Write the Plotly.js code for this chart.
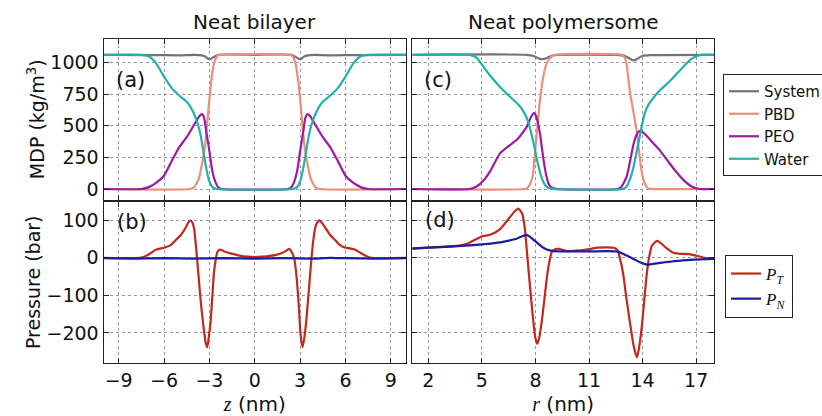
<!DOCTYPE html>
<html>
<head>
<meta charset="utf-8">
<script src="https://cdn.plot.ly/plotly-3.0.1.min.js"></script>
<style>html,body{margin:0;padding:0;background:#fff;}#chart{width:822px;height:416px;}</style>
</head>
<body>
<div id="chart"></div>
<script>
// ---------- Neat bilayer: mass density profiles (kg/m^3) vs z (nm) ----------
const bilSystemZ = [-10, -7, -5, -4, -3.5, -3.3, -3.0, -2.7, -2.4, 0, 2.4, 2.7, 3.0, 3.3, 3.5, 4, 5, 7, 10];
const bilSystemV = [1062, 1060, 1058, 1062, 1058, 1050, 1025, 1045, 1062, 1062, 1062, 1045, 1025, 1050, 1058, 1062, 1058, 1060, 1062];

const bilPBDZ = [-10, -4.3, -4.0, -3.7, -3.5, -3.3, -3.1, -2.9, -2.7, -2.5, -2.3, 2.3, 2.5, 2.7, 2.9, 3.1, 3.3, 3.5, 3.7, 4.0, 4.3, 10];
const bilPBDV = [0, 0, 15, 80, 190, 330, 580, 830, 990, 1050, 1062, 1062, 1050, 990, 830, 580, 330, 190, 80, 15, 0, 0];

const bilPEOZ = [-10, -7.5, -7, -6.5, -6, -5.5, -5, -4.5, -4, -3.7, -3.5, -3.35, -3.2, -3.0, -2.8, -2.6, -2.4, -2.2, 2.2, 2.4, 2.6, 2.8, 3.0, 3.2, 3.35, 3.5, 3.7, 4, 4.5, 5, 5.5, 6, 6.5, 7, 7.5, 10];
const bilPEOV = [0, 0, 15, 50, 105, 220, 330, 410, 510, 570, 592, 565, 450, 300, 140, 55, 12, 0, 0, 12, 55, 140, 300, 450, 565, 592, 570, 510, 410, 330, 220, 105, 50, 15, 0, 0];

const bilWaterZ = [-10, -7.5, -7, -6.5, -6, -5.5, -5, -4.5, -4.2, -3.9, -3.6, -3.4, -3.2, -3.0, -2.8, -2.5, 2.5, 2.8, 3.0, 3.2, 3.4, 3.6, 3.9, 4.2, 4.5, 5, 5.5, 6, 6.5, 7, 7.5, 10];
const bilWaterV = [1062, 1062, 1050, 990, 890, 800, 740, 690, 640, 560, 440, 300, 160, 60, 15, 0, 0, 15, 60, 160, 300, 440, 560, 640, 690, 740, 800, 890, 990, 1050, 1062, 1062];

// ---------- Neat polymersome: mass density profiles vs r (nm) ----------
const polSystemR = [1.1, 7.5, 7.9, 8.2, 8.4, 8.6, 8.9, 9.3, 12.5, 13.0, 13.3, 13.5, 13.7, 14.0, 14.5, 18];
const polSystemV = [1062, 1062, 1052, 1032, 1027, 1035, 1055, 1062, 1062, 1055, 1030, 1018, 1030, 1055, 1060, 1062];

const polPBDR = [1.1, 7.4, 7.55, 7.7, 7.85, 8.0, 8.25, 8.45, 8.65, 8.9, 9.1, 12.8, 13.0, 13.1, 13.3, 13.5, 13.7, 13.9, 14.1, 14.3, 14.5, 18];
const polPBDV = [0, 0, 10, 40, 110, 330, 700, 900, 1000, 1050, 1062, 1062, 1040, 990, 760, 600, 430, 180, 50, 5, 0, 0];

const polPEOR = [1.1, 4.3, 4.7, 5.1, 5.5, 6.0, 6.5, 7.0, 7.5, 7.75, 7.92, 8.05, 8.25, 8.45, 8.6, 8.72, 8.9, 9.2, 12.6, 12.8, 13.1, 13.3, 13.5, 13.7, 13.86, 14.0, 14.3, 14.6, 15.0, 15.4, 15.8, 16.3, 16.8, 17.2, 18];
const polPEOV = [0, 0, 20, 70, 150, 280, 340, 395, 490, 570, 600, 570, 440, 230, 110, 45, 10, 0, 0, 15, 95, 220, 360, 440, 460, 450, 410, 362, 300, 225, 150, 70, 15, 0, 0];

const polWaterR = [1.1, 4.3, 4.7, 5.1, 5.5, 6.0, 6.5, 7.0, 7.3, 7.6, 7.9, 8.1, 8.3, 8.5, 8.7, 9.0, 12.9, 13.1, 13.3, 13.5, 13.7, 13.9, 14.1, 14.3, 14.6, 15.0, 15.5, 16.0, 16.4, 16.7, 17.0, 17.3, 18];
const polWaterV = [1062, 1062, 1040, 965, 890, 810, 740, 675, 620, 530, 360, 220, 110, 40, 10, 0, 0, 20, 80, 180, 320, 460, 590, 660, 720, 785, 850, 925, 985, 1025, 1050, 1062, 1062];

// ---------- Neat bilayer: pressure (bar) vs z ----------
const bilPTZ = [-10, -7.6, -7.2, -6.9, -6.5, -6.0, -5.6, -5.2, -4.9, -4.6, -4.4, -4.25, -4.1, -4.0, -3.85, -3.7, -3.55, -3.37, -3.25, -3.14, -3.05, -2.92, -2.8, -2.7, -2.58, -2.48, -2.3, -2.0, -1.6, -1.0, -0.5, 0, 0.5, 1.0, 1.4, 1.75, 2.05, 2.27, 2.45, 2.6, 2.75, 2.9, 3.02, 3.15, 3.27, 3.4, 3.55, 3.7, 3.85, 4.03, 4.25, 4.45, 4.7, 5.0, 5.3, 5.6, 5.9, 6.2, 6.6, 7.0, 7.4, 7.7, 10];
const bilPTV = [0, 0, 5, 12, 22, 27, 33, 48, 60, 78, 94, 100, 92, 75, 15, -56, -125, -190, -225, -238, -215, -170, -100, -40, -5, 15, 22, 17, 12, 6, 3, 2, 3, 5, 8, 12, 18, 24, 15, 0, -45, -120, -200, -238, -215, -170, -100, -25, 40, 85, 100, 93, 78, 60, 48, 35, 28, 26, 22, 13, 4, 0, 0];
const bilPNZ = [-10, -8, -6, -4, -2, 0, 2, 4, 5, 6, 8, 10];
const bilPNV = [-1, -2, -1, -2, -1, -2, -1, -2, 0, -1, -2, -1];

// ---------- Neat polymersome: pressure (bar) vs r ----------
const polPTR = [1.1, 2, 3, 3.8, 4.2, 4.6, 5.0, 5.5, 6.0, 6.4, 6.8, 7.04, 7.25, 7.4, 7.55, 7.7, 7.88, 8.0, 8.1, 8.2, 8.35, 8.5, 8.63, 8.78, 8.91, 9.1, 9.3, 9.75, 10.5, 11.06, 11.5, 12.0, 12.4, 12.6, 12.75, 12.92, 13.1, 13.3, 13.5, 13.68, 13.8, 13.95, 14.1, 14.24, 14.38, 14.52, 14.8, 15.0, 15.36, 15.7, 16.0, 16.6, 17.0, 17.4, 18];
const polPTV = [24, 27, 30, 33, 38, 48, 57, 62, 76, 98, 122, 131, 118, 80, 0, -80, -170, -215, -229, -215, -170, -110, -56, -10, 15, 23, 24, 18, 20, 24, 27, 28, 27, 20, -5, -45, -110, -175, -235, -265, -240, -185, -110, -40, 5, 32, 45, 40, 25, 14, 11, 10, 6, 1, -2];
const polPNR = [1.1, 2, 3.25, 4.5, 5.5, 6.0, 6.5, 6.95, 7.3, 7.51, 7.8, 8.07, 8.35, 8.63, 9.0, 10, 11, 12, 12.55, 12.9, 13.11, 13.5, 13.86, 14.24, 14.6, 15.36, 16.0, 16.85, 18];
const polPNV = [25, 27, 30, 34, 38, 41, 46, 51, 58, 61, 52, 41, 30, 22, 18, 17, 17, 18, 17, 11, 6, -3, -12, -18, -16, -11, -8, -5, -3];

// ---------- ticks / labels ----------
const zTicks = [-9, -6, -3, 0, 3, 6, 9];
const rTicks = [2, 5, 8, 11, 14, 17];
const mdpTicks = [0, 250, 500, 750, 1000];
const pTicks = [-200, -100, 0, 100];
const panelTitles = ['Neat bilayer', 'Neat polymersome'];
const panelLabels = ['(a)', '(b)', '(c)', '(d)'];

const C = {system: '#737373', pbd: '#e8907a', peo: '#9c1aa4', water: '#22b0ae', pt: '#c2281c', pn: '#1c1ca0'};
const LW = 2.2;
const SANS = 'DejaVu Sans, sans-serif';
const SERIF = 'Liberation Serif, serif';

function tr(x, y, name, color, xa, ya, show, legend) {
  return {x: x, y: y, name: name, type: 'scatter', mode: 'lines', xaxis: xa, yaxis: ya,
    line: {color: color, width: LW, shape: 'spline', smoothing: 0.5},
    showlegend: show, legend: legend || 'legend', legendgroup: name};
}

const data = [
  tr(bilSystemZ, bilSystemV, 'System', C.system, 'x', 'y', true),
  tr(bilPBDZ, bilPBDV, 'PBD', C.pbd, 'x', 'y', true),
  tr(bilPEOZ, bilPEOV, 'PEO', C.peo, 'x', 'y', true),
  tr(bilWaterZ, bilWaterV, 'Water', C.water, 'x', 'y', true),
  tr(polSystemR, polSystemV, 'System', C.system, 'x2', 'y2', false),
  tr(polPBDR, polPBDV, 'PBD', C.pbd, 'x2', 'y2', false),
  tr(polPEOR, polPEOV, 'PEO', C.peo, 'x2', 'y2', false),
  tr(polWaterR, polWaterV, 'Water', C.water, 'x2', 'y2', false),
  tr(bilPTZ, bilPTV, '<i>P</i><sub><i>T</i></sub>', C.pt, 'x3', 'y3', true, 'legend2'),
  tr(bilPNZ, bilPNV, '<i>P</i><sub><i>N</i></sub>', C.pn, 'x3', 'y3', true, 'legend2'),
  tr(polPTR, polPTV, '<i>P</i><sub><i>T</i></sub>', C.pt, 'x4', 'y4', false, 'legend2'),
  tr(polPNR, polPNV, '<i>P</i><sub><i>N</i></sub>', C.pn, 'x4', 'y4', false, 'legend2')
];

const W = 822, H = 416;
const xL = [103.5 / W, 406 / W], xR = [412.3 / W, 714 / W];
const yT = [1 - 200 / H, 1 - 38.5 / H], yB = [1 - 363 / H, 1 - 201.5 / H];

function ax(extra) {
  return Object.assign({
    showline: true, linecolor: '#222', linewidth: 1, mirror: 'ticks',
    ticks: 'inside', ticklen: 5, tickcolor: '#222', tickwidth: 1,
    showgrid: true, gridcolor: '#999', griddash: 'dot', gridwidth: 1,
    zeroline: false, tickfont: {family: SANS, size: 19, color: '#111'},
    tickmode: 'array', automargin: false
  }, extra);
}

const xTitleFont = {family: SANS, size: 20, color: '#111'};
const yTitleFont = {family: SANS, size: 19, color: '#111'};
const layout = {
  width: W, height: H, margin: {l: 0, r: 0, t: 0, b: 0, autoexpand: false},
  paper_bgcolor: '#fff', plot_bgcolor: '#fff',
  font: {family: SANS, color: '#111'},
  xaxis: ax({domain: xL, range: [-10, 10], tickvals: zTicks, showticklabels: false, anchor: 'y'}),
  xaxis2: ax({domain: xR, range: [1.1, 18], tickvals: rTicks, showticklabels: false, anchor: 'y2'}),
  xaxis3: ax({domain: xL, range: [-10, 10], tickvals: zTicks, anchor: 'y3',
    title: {text: '<span style="font-family:Liberation Serif"><i>z</i></span> (nm)', font: xTitleFont, standoff: 10}}),
  xaxis4: ax({domain: xR, range: [1.1, 18], tickvals: rTicks, anchor: 'y4',
    title: {text: '<span style="font-family:Liberation Serif"><i>r</i></span> (nm)', font: xTitleFont, standoff: 10}}),
  yaxis: ax({domain: yT, range: [-87, 1191], tickvals: mdpTicks, anchor: 'x',
    title: {text: 'MDP (kg/m<sup>3</sup>)', font: yTitleFont, standoff: 0}}),
  yaxis2: ax({domain: yT, range: [-87, 1191], tickvals: mdpTicks, showticklabels: false, anchor: 'x2'}),
  yaxis3: ax({domain: yB, range: [-280, 150], tickvals: pTicks, anchor: 'x3',
    title: {text: 'Pressure (bar)', font: yTitleFont, standoff: 0}}),
  yaxis4: ax({domain: yB, range: [-280, 150], tickvals: pTicks, showticklabels: false, anchor: 'x4'}),
  legend: {x: 723 / W, y: 1 - 74 / H, xanchor: 'left', yanchor: 'top', bgcolor: '#fff',
    bordercolor: '#222', borderwidth: 1, font: {family: SANS, size: 15, color: '#111'},
    itemwidth: 30, tracegroupgap: 0},
  legend2: {x: 725 / W, y: 1 - 255 / H, xanchor: 'left', yanchor: 'top', bgcolor: '#fff',
    bordercolor: '#222', borderwidth: 1, font: {family: SERIF, size: 17, color: '#111'},
    itemwidth: 30, tracegroupgap: 0},
  annotations: [
    {text: panelTitles[0], xref: 'paper', yref: 'paper', x: 254.75 / W, y: 1 - 22 / H, showarrow: false,
      xanchor: 'center', yanchor: 'middle', font: {family: SANS, size: 20, color: '#111'}},
    {text: panelTitles[1], xref: 'paper', yref: 'paper', x: 563 / W, y: 1 - 22 / H, showarrow: false,
      xanchor: 'center', yanchor: 'middle', font: {family: SANS, size: 20, color: '#111'}},
    {text: panelLabels[0], xref: 'x domain', yref: 'y domain', x: 0.088, y: 0.743, showarrow: false,
      xanchor: 'center', yanchor: 'middle', font: {family: SANS, size: 21, color: '#111'}},
    {text: panelLabels[1], xref: 'x3 domain', yref: 'y3 domain', x: 0.093, y: 0.875, showarrow: false,
      xanchor: 'center', yanchor: 'middle', font: {family: SANS, size: 21, color: '#111'}},
    {text: panelLabels[2], xref: 'x2 domain', yref: 'y2 domain', x: 0.085, y: 0.743, showarrow: false,
      xanchor: 'center', yanchor: 'middle', font: {family: SANS, size: 21, color: '#111'}},
    {text: panelLabels[3], xref: 'x4 domain', yref: 'y4 domain', x: 0.092, y: 0.885, showarrow: false,
      xanchor: 'center', yanchor: 'middle', font: {family: SANS, size: 21, color: '#111'}}
  ]
};

Plotly.newPlot('chart', data, layout, {displayModeBar: false, staticPlot: true});
</script>
</body>
</html>
